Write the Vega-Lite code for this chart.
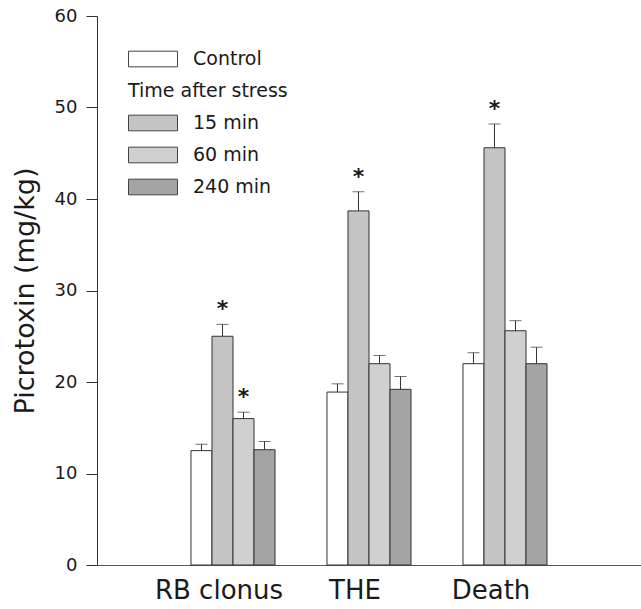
{
  "$schema": "https://vega.github.io/schema/vega-lite/v6.json",
  "width": 544,
  "height": 549,
  "autosize": {"type": "none"},
  "padding": {"left": 97, "top": 16, "right": 0, "bottom": 44},
  "background": "white",
  "config": {
    "view": {"stroke": null},
    "font": "DejaVu Sans",
    "axis": {"grid": false, "domainColor": "#333", "tickColor": "#333", "labelColor": "#1a1a1a", "titleColor": "#1a1a1a", "labelFont": "DejaVu Sans", "titleFont": "DejaVu Sans", "titleFontWeight": "normal"}
  },
  "data": {
    "values": [
      {"group": "RB clonus", "series": "Control", "value": 12.5, "upper": 13.2, "star": ""},
      {"group": "RB clonus", "series": "15 min", "value": 25.0, "upper": 26.3, "star": "*"},
      {"group": "RB clonus", "series": "60 min", "value": 16.0, "upper": 16.7, "star": "*"},
      {"group": "RB clonus", "series": "240 min", "value": 12.6, "upper": 13.5, "star": ""},
      {"group": "THE", "series": "Control", "value": 18.9, "upper": 19.8, "star": ""},
      {"group": "THE", "series": "15 min", "value": 38.7, "upper": 40.8, "star": "*"},
      {"group": "THE", "series": "60 min", "value": 22.0, "upper": 22.9, "star": ""},
      {"group": "THE", "series": "240 min", "value": 19.2, "upper": 20.6, "star": ""},
      {"group": "Death", "series": "Control", "value": 22.0, "upper": 23.2, "star": ""},
      {"group": "Death", "series": "15 min", "value": 45.6, "upper": 48.2, "star": "*"},
      {"group": "Death", "series": "60 min", "value": 25.6, "upper": 26.7, "star": ""},
      {"group": "Death", "series": "240 min", "value": 22.0, "upper": 23.8, "star": ""}
    ]
  },
  "encoding": {
    "x": {
      "field": "group", "type": "nominal", "sort": ["RB clonus", "THE", "Death"],
      "scale": {"paddingInner": 0.382, "paddingOuter": 0.691},
      "axis": {"title": null, "labelAngle": 0, "ticks": false, "labelFontSize": 26, "labelPadding": 12, "labelOffset": -14, "domainColor": "#555"}
    },
    "xOffset": {
      "field": "series", "type": "nominal", "sort": ["Control", "15 min", "60 min", "240 min"],
      "scale": {"paddingInner": 0, "paddingOuter": 0}
    }
  },
  "layer": [
    {
      "mark": {"type": "bar", "stroke": "#333", "strokeWidth": 1},
      "encoding": {
        "y": {
          "field": "value", "type": "quantitative",
          "scale": {"domain": [0, 60], "nice": false},
          "axis": {"title": "Picrotoxin (mg/kg)", "values": [0, 10, 20, 30, 40, 50, 60], "labelFontSize": 18, "titleFontSize": 27, "tickSize": 11, "labelPadding": 9, "titlePadding": 15}
        },
        "fill": {
          "field": "series", "type": "nominal",
          "scale": {
            "domain": ["Control", "Time after stress", "15 min", "60 min", "240 min"],
            "range": ["#ffffff", "transparent", "#c4c4c4", "#d0d0d0", "#a4a4a4"]
          },
          "legend": {
            "title": null,
            "orient": "none",
            "legendX": 43,
            "legendY": 30,
            "symbolType": "M-2,-0.64H2V0.64H-2Z",
            "symbolSize": 600,
            "symbolStrokeColor": "#444",
            "symbolStrokeWidth": 1,
            "labelFont": "DejaVu Sans",
            "labelFontSize": 19,
            "labelColor": "#1a1a1a",
            "labelOffset": 27,
            "rowPadding": 9,
            "encode": {
              "symbols": {"update": {"strokeOpacity": {"signal": "datum.value === 'Time after stress' ? 0 : 1"}}},
              "labels": {"update": {"dx": {"signal": "datum.value === 'Time after stress' ? -65 : 0"}}}
            }
          }
        }
      }
    },
    {
      "mark": {"type": "rule", "color": "#333", "strokeWidth": 1},
      "encoding": {
        "y": {"field": "value", "type": "quantitative"},
        "y2": {"field": "upper"}
      }
    },
    {
      "mark": {"type": "tick", "orient": "horizontal", "color": "#333", "thickness": 1, "size": 12},
      "encoding": {
        "y": {"field": "upper", "type": "quantitative"}
      }
    },
    {
      "mark": {"type": "text", "fontSize": 22, "fontWeight": "bold", "color": "#1a1a1a", "baseline": "alphabetic", "dy": -8},
      "encoding": {
        "y": {"field": "upper", "type": "quantitative"},
        "text": {"field": "star"}
      }
    }
  ]
}
